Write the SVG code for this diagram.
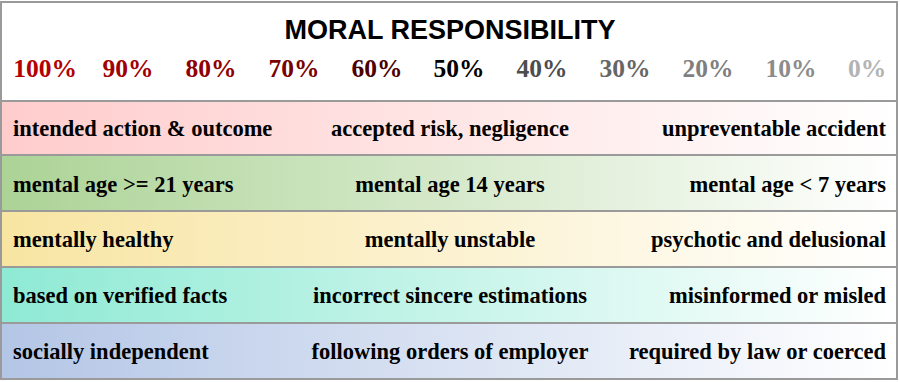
<svg xmlns="http://www.w3.org/2000/svg" width="900" height="382" viewBox="0 0 900 382">
<defs>
<linearGradient id="g1" x1="0" y1="0" x2="1" y2="0"><stop offset="0" stop-color="#ffcccc"/><stop offset="1" stop-color="#ffffff"/></linearGradient>
<linearGradient id="g2" x1="0" y1="0" x2="1" y2="0"><stop offset="0" stop-color="#acd396"/><stop offset="1" stop-color="#ffffff"/></linearGradient>
<linearGradient id="g3" x1="0" y1="0" x2="1" y2="0"><stop offset="0" stop-color="#f8e5a2"/><stop offset="1" stop-color="#ffffff"/></linearGradient>
<linearGradient id="g4" x1="0" y1="0" x2="1" y2="0"><stop offset="0" stop-color="#8eead4"/><stop offset="1" stop-color="#ffffff"/></linearGradient>
<linearGradient id="g5" x1="0" y1="0" x2="1" y2="0"><stop offset="0" stop-color="#b4c6e6"/><stop offset="1" stop-color="#ffffff"/></linearGradient>
</defs>
<style>
.title{font-family:"Liberation Sans",Arial,sans-serif;font-weight:bold;font-size:27px;fill:#000;text-anchor:middle}
.pct{font-family:"Liberation Serif","Times New Roman",serif;font-weight:bold;font-size:25.5px;text-anchor:middle}
.t{font-family:"Liberation Serif","Times New Roman",serif;font-weight:bold;font-size:22.5px;fill:#000}
.m{text-anchor:middle}
.r{text-anchor:end}
.line{stroke:#9a9a9a;stroke-width:2;fill:none}
</style>
<rect x="0" y="0" width="900" height="382" fill="#ffffff"/>
<g id="header">
<text class="title" x="450" y="39">MORAL RESPONSIBILITY</text>
<text class="pct" x="45" y="77" fill="#b30000">100%</text>
<text class="pct" x="128" y="77" fill="#a20000">90%</text>
<text class="pct" x="211" y="77" fill="#8f0000">80%</text>
<text class="pct" x="294" y="77" fill="#780000">70%</text>
<text class="pct" x="377" y="77" fill="#4a0000">60%</text>
<text class="pct" x="459" y="77" fill="#000000">50%</text>
<text class="pct" x="542" y="77" fill="#4d4d4d">40%</text>
<text class="pct" x="625" y="77" fill="#666666">30%</text>
<text class="pct" x="708" y="77" fill="#7f7f7f">20%</text>
<text class="pct" x="791" y="77" fill="#8c8c8c">10%</text>
<text class="pct" x="867" y="77" fill="#b3b3b3">0%</text>
</g>
<g id="row1">
<rect x="2" y="102" width="895" height="52" fill="url(#g1)"/>
<text class="t" x="13" y="136">intended action &amp; outcome</text>
<text class="t m" x="450" y="136">accepted risk, negligence</text>
<text class="t r" x="886" y="136">unpreventable accident</text>
</g>
<g id="row2">
<rect x="2" y="156" width="895" height="54" fill="url(#g2)"/>
<text class="t" x="13" y="192">mental age &gt;= 21 years</text>
<text class="t m" x="450" y="192">mental age 14 years</text>
<text class="t r" x="886" y="192">mental age &lt; 7 years</text>
</g>
<g id="row3">
<rect x="2" y="212" width="895" height="54" fill="url(#g3)"/>
<text class="t" x="13" y="247">mentally healthy</text>
<text class="t m" x="450" y="247">mentally unstable</text>
<text class="t r" x="886" y="247">psychotic and delusional</text>
</g>
<g id="row4">
<rect x="2" y="268" width="895" height="54" fill="url(#g4)"/>
<text class="t" x="13" y="303">based on verified facts</text>
<text class="t m" x="450" y="303">incorrect sincere estimations</text>
<text class="t r" x="886" y="303">misinformed or misled</text>
</g>
<g id="row5">
<rect x="2" y="324" width="895" height="54" fill="url(#g5)"/>
<text class="t" x="13" y="359">socially independent</text>
<text class="t m" x="450" y="359">following orders of employer</text>
<text class="t r" x="886" y="359">required by law or coerced</text>
</g>
<g id="connectors">
<rect class="line" x="1" y="2" width="896" height="377"/>
<line class="line" x1="1" y1="101" x2="897" y2="101"/>
<line class="line" x1="1" y1="155" x2="897" y2="155"/>
<line class="line" x1="1" y1="211" x2="897" y2="211"/>
<line class="line" x1="1" y1="267" x2="897" y2="267"/>
<line class="line" x1="1" y1="323" x2="897" y2="323"/>
</g>
</svg>
